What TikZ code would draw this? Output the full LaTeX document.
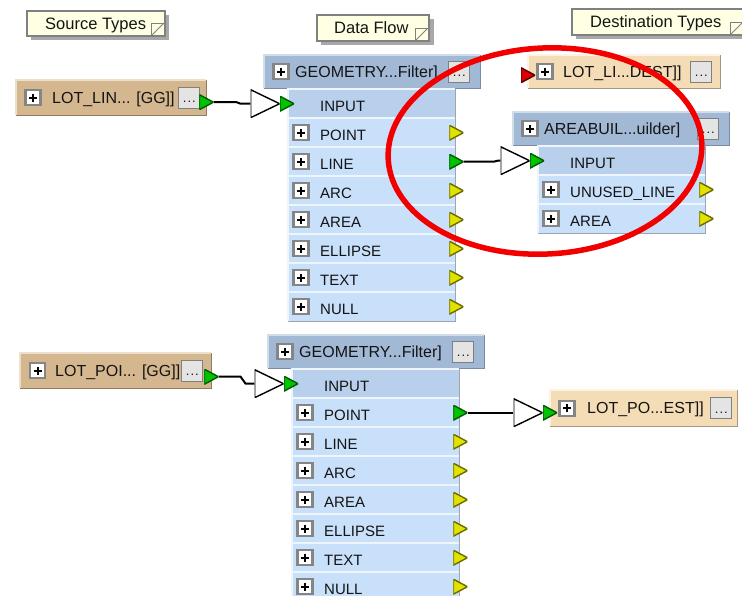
\documentclass[tikz,border=0pt]{standalone}
\usepackage{fontspec}
\setmainfont{Liberation Sans}
\definecolor{notefill}{HTML}{FFFFE3}
\definecolor{noteline}{HTML}{808080}
\definecolor{noteshadow}{HTML}{A8A8A8}
\definecolor{hdrfill}{HTML}{A2B9D6}
\definecolor{hdrlight}{HTML}{D2DDEA}
\definecolor{hdrdark}{HTML}{7D8CA2}
\definecolor{inrowfill}{HTML}{B8D0EB}
\definecolor{rowfill}{HTML}{C9E0FA}
\definecolor{rowlight}{HTML}{EEF5FD}
\definecolor{rowdark}{HTML}{9DA6B0}
\definecolor{srcfill}{HTML}{D4B68F}
\definecolor{srclight}{HTML}{ECDFCB}
\definecolor{srcdark}{HTML}{8E7D62}
\definecolor{dstfill}{HTML}{F4DDB6}
\definecolor{dstlight}{HTML}{FCF3E4}
\definecolor{dstdark}{HTML}{A69782}
\definecolor{btnfill}{HTML}{E4E4E4}
\definecolor{btndark}{HTML}{808080}
\definecolor{plusgray}{HTML}{858585}
\definecolor{pgreen}{HTML}{00C400}
\definecolor{pgreenline}{HTML}{005A00}
\definecolor{pyellow}{HTML}{E2E200}
\definecolor{pyellowline}{HTML}{6B6B00}
\definecolor{pred}{HTML}{D80000}
\definecolor{predline}{HTML}{5A0000}
\definecolor{redmark}{HTML}{F20000}
\definecolor{ink}{HTML}{141414}
\tikzset{
  hdr/.style={anchor=north west, inner sep=0, minimum width=216pt, minimum height=33pt, fill=hdrfill},
  inrow/.style={anchor=north west, inner sep=0, minimum width=167pt, minimum height=29pt, fill=inrowfill},
  outrow/.style={anchor=north west, inner sep=0, minimum width=167pt, minimum height=29pt, fill=rowfill},
  srcbox/.style={anchor=north west, inner sep=0, fill=srcfill},
  dstbox/.style={anchor=north west, inner sep=0, fill=dstfill},
  note/.style={anchor=north west, inner sep=0, fill=notefill, draw=noteline, line width=1.5pt},
  txt/.style={inner sep=0, anchor=west, text=ink, text height=11.5pt, text depth=0pt, font=\fontsize{16}{19}\selectfont},
  rtxt/.style={inner sep=0, anchor=west, text=ink, text height=11pt, text depth=0pt, yshift=-2pt, font=\fontsize{15}{18}\selectfont},
  ntxt/.style={inner sep=0, anchor=west, text=ink, text height=11.5pt, text depth=0pt, font=\fontsize{16.5}{19}\selectfont},
  plusbox/.style={minimum size=15pt, inner sep=0, fill=white, draw=plusgray, line width=2.2pt,
    path picture={\draw[black, line width=2pt] ([xshift=-4pt]path picture bounding box.center) -- ([xshift=4pt]path picture bounding box.center);
                  \draw[black, line width=2pt] ([yshift=-4pt]path picture bounding box.center) -- ([yshift=4pt]path picture bounding box.center);}},
  btn/.style={minimum width=21pt, minimum height=21pt, inner sep=0, fill=btnfill, draw=btndark, line width=1pt, text=ink, text height=10pt, text depth=0pt, font=\fontsize{13}{13}\selectfont},
  port/.style 2 args={minimum width=14pt, minimum height=15pt, inner sep=0,
    path picture={\filldraw[fill=#1, draw=#2, line width=1.4pt] (path picture bounding box.north west) -- (path picture bounding box.east) -- (path picture bounding box.south west) -- cycle;}},
  junc/.style={minimum width=29pt, minimum height=28pt, inner sep=0,
    path picture={\filldraw[fill=white, draw=black, line width=1.4pt] (path picture bounding box.north west) -- (path picture bounding box.east) -- (path picture bounding box.south west) -- cycle;}},
  nicon/.style={minimum size=13pt, inner sep=0, draw=noteline, line width=1pt,
    path picture={\draw[noteline, line width=1pt] (path picture bounding box.south west) -- (path picture bounding box.north east);}},
  wire/.style={draw=black, line width=2pt},
}
\newcommand\bevel[3]{%
  \draw[#2, line width=1.5pt] (#1.south west) -- (#1.north west) -- (#1.north east);
  \draw[#3, line width=1.5pt] (#1.north east) -- (#1.south east) -- (#1.south west);}
\newcommand\dotsbtn{.\kern1pt.\kern1pt.}
\newcommand\geomfilter[7]{%
  \node[hdr] (#1) at (#2,#3) {};
  \bevel{#1}{hdrlight}{hdrdark}
  \node[plusbox] (#1p) at ([xshift=17pt]#1.west) {};
  \node[txt] (#1t) at ([xshift=31pt]#1.west) {#4};
  \node[btn, anchor=east] (#1b) at ([xshift=-10pt]#1.east) {\dotsbtn};
  \node[inrow] (#1r0) at ({#2+#7},{#3+34}) {};
  \bevel{#1r0}{rowlight}{rowdark}
  \node[rtxt] (#1t0) at ([xshift=32pt]#1r0.west) {INPUT};
  \foreach \rowname [count=\i] in {#5} {
    \node[outrow] (#1r\i) at ({#2+#7},{#3+34+29*\i}) {};
    \bevel{#1r\i}{rowlight}{rowdark}
    \node[plusbox] (#1p\i) at ([xshift=13pt]#1r\i.west) {};
    \node[rtxt] (#1t\i) at ([xshift=32pt]#1r\i.west) {\rowname};
    \ifnum\i=#6 \def\pc{pgreen}\def\pl{pgreenline}\else\def\pc{pyellow}\def\pl{pyellowline}\fi
    \node[port={\pc}{\pl}] (#1o\i) at ([xshift=1pt]#1r\i.east) {};
  }
  \node[port={pgreen}{pgreenline}] (#1i) at ([xshift=-1pt]#1r0.west) {};
  \node[junc, anchor=east] (#1j) at (#1i.west) {};
}
\begin{document}
\begin{tikzpicture}[x=1pt, y=-1pt]
\useasboundingbox (0,0) rectangle (742,595);
\clip (0,0) rectangle (742,595);
\fill[white] (0,0) rectangle (742,595);

% annotations
\fill[noteshadow] (31,15) rectangle (169,40);
\node[note, minimum width=138pt, minimum height=25pt] (n1) at (26,10) {};
\node[ntxt] (n1t) at ([xshift=19pt]n1.west) {Source Types};
\node[nicon, anchor=south east] (n1i) at ([xshift=-1pt]n1.south east) {};

\fill[noteshadow] (321,19) rectangle (434,45);
\node[note, minimum width=112pt, minimum height=26pt] (n2) at (316,14) {};
\node[ntxt] (n2t) at ([xshift=18pt]n2.west) {Data Flow};
\node[nicon, anchor=south east] (n2i) at ([xshift=-1pt]n2.south east) {};

\fill[noteshadow] (576,13) rectangle (760,39);
\node[note, minimum width=178pt, minimum height=26pt] (n3) at (571,8) {};
\node[ntxt] (n3t) at ([xshift=19pt]n3.west) {Destination Types};
\node[nicon, anchor=south east] (n3i) at ([xshift=-7pt]n3.south east) {};

% filters
\geomfilter{fa}{264}{55}{GEOMETRY...Filter]}{POINT,LINE,ARC,AREA,ELLIPSE,TEXT,NULL}{2}{24}
\geomfilter{fb}{268}{335}{GEOMETRY...Filter]}{POINT,LINE,ARC,AREA,ELLIPSE,TEXT,NULL}{1}{24}
\geomfilter{ab}{513}{112}{AREABUIL...uilder]}{UNUSED\_LINE,AREA}{0}{25}

% sources
\node[srcbox, minimum width=190pt, minimum height=35pt] (sa) at (16,80) {};
\bevel{sa}{srclight}{srcdark}
\node[plusbox] (sap) at ([xshift=17pt]sa.west) {};
\node[txt] (sat) at ([xshift=36pt]sa.west) {LOT\_LIN... [GG]]};
\node[btn, anchor=east] (sab) at ([xshift=-6pt]sa.east) {\dotsbtn};
\node[port={pgreen}{pgreenline}] (sao) at ([yshift=-4.5pt]sa.east) {};

\node[srcbox, minimum width=191pt, minimum height=35pt] (sb) at (20,353) {};
\bevel{sb}{srclight}{srcdark}
\node[plusbox] (sbp) at ([xshift=17.5pt]sb.west) {};
\node[txt] (sbt) at ([xshift=35pt]sb.west) {LOT\_POI... [GG]]};
\node[btn, anchor=east] (sbb) at ([xshift=-8pt]sb.east) {\dotsbtn};
\node[port={pgreen}{pgreenline}] (sbo) at ([yshift=-6pt]sb.east) {};

% destinations
\node[dstbox, minimum width=192pt, minimum height=33pt] (da) at (528,55) {};
\bevel{da}{dstlight}{dstdark}
\node[plusbox] (dap) at ([xshift=17pt]da.west) {};
\node[txt] (dat) at ([xshift=35pt]da.west) {LOT\_LI...DEST]]};
\node[btn, anchor=east] (dab) at ([xshift=-8pt]da.east) {\dotsbtn};
\node[port={pred}{predline}] (dai) at ([yshift=-3.5pt]da.west) {};

\node[dstbox, minimum width=187pt, minimum height=36pt] (db) at (550,390) {};
\bevel{db}{dstlight}{dstdark}
\node[plusbox] (dbp) at ([xshift=17pt]db.west) {};
\node[txt] (dbt) at ([xshift=37pt]db.west) {LOT\_PO...EST]]};
\node[btn, anchor=east] (dbb) at ([xshift=-5pt]db.east) {\dotsbtn};
\node[port={pgreen}{pgreenline}] (dbi) at ([yshift=-4.5pt]db.west) {};
\node[junc, anchor=east] (dbj) at (dbi.west) {};

% connectors
\path (sao.east) ++(23,0) coordinate (wa1) ++(4,0) coordinate (wa2);
\draw[wire] (sao.east) -- (wa1) -- (wa2 |- faj.west) -- (faj.west);
\path (sbo.east) ++(22,0) coordinate (wb1) ++(5,0) coordinate (wb2);
\draw[wire] (sbo.east) -- (wb1) -- (wb2 |- fbj.west) -- (fbj.west);
\path (fao2.east) ++(30,0) coordinate (wc1) ++(4,0) coordinate (wc2);
\draw[wire] (fao2.east) -- (wc1) -- (wc2 |- abj.west) -- (abj.west);
\draw[wire] (fbo1.east) -- (dbj.west);

% highlight
\draw[redmark, line width=5.5pt, rotate around={3:(545,151)}] (545,151) ellipse [x radius=157, y radius=103];
\end{tikzpicture}
\end{document}
